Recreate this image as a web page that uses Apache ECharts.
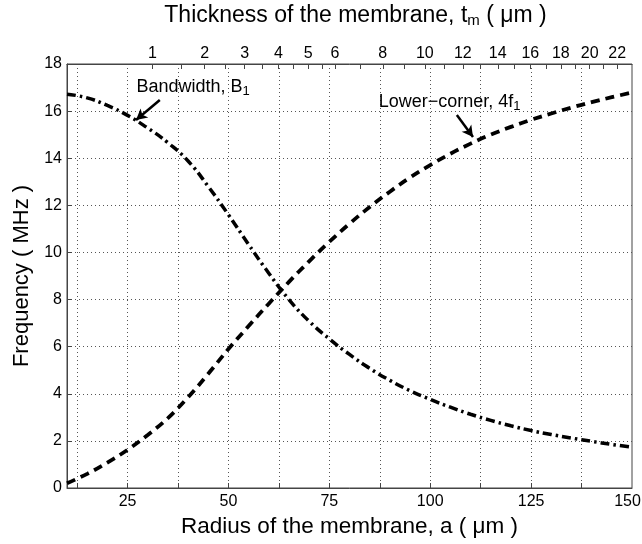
<!DOCTYPE html>
<html>
<head>
<meta charset="utf-8">
<script src="https://cdn.jsdelivr.net/npm/echarts@6/dist/echarts.min.js"></script>
<style>html,body{margin:0;padding:0;background:#fff}#c{width:642px;height:544px}</style>
</head>
<body>
<div id="c"></div>
<script>
// Radius of the membrane (µm)
const radius = [10,15,20,25,30,35,40,45,50,55,60,65,70,75,80,85,90,95,100,105,110,115,120,125,130,135,140,145,150];
// Lower-corner, 4f1 (MHz)
const lowerCorner = [0.2,0.6,1.08,1.62,2.25,2.97,3.85,4.85,5.9,6.875,7.825,8.75,9.625,10.45,11.22,11.93,12.58,13.18,13.71,14.19,14.62,15.0,15.33,15.63,15.9,16.15,16.38,16.59,16.79];
// Bandwidth, B1 (MHz)
const bandwidth = [16.72,16.56,16.24,15.82,15.28,14.66,13.88,12.8,11.6,10.34,9.12,8.0,7.08,6.33,5.67,5.08,4.57,4.13,3.76,3.43,3.13,2.87,2.64,2.44,2.27,2.12,1.98,1.85,1.73];
// bottom axis ticks / labels
const xTickValues = [12.5,25,37.5,50,62.5,75,87.5,100,112.5,125,137.5];
const xLabelValues = [25,50,75,100,125,150];
// top axis: thickness t (µm), radius a = K*sqrt(t)
const K = 31.2;
const thickTicks = [1,1.5,2,2.5,3,3.5,4,4.5,5,5.5,6,7,8,9,10,11,12,13,14,15,16,17,18,19,20,21,22];
const thickLabels = [1,2,3,4,5,6,8,10,12,14,16,18,20,22];
// y axis
const yMin = 0, yMax = 18, yStep = 2;

const FF = '"Liberation Sans", Arial, Helvetica, sans-serif';
const toA = t => K * Math.sqrt(t);

const chart = echarts.init(document.getElementById('c'), null, {renderer:'canvas'});
const axisColor = '#444';
const gridLine = {show:true, lineStyle:{color:'#555', width:1, type:[1,3]}};
const subRich = {
  a:{fontSize:18, color:'#000', fontFamily:FF, lineHeight:20, verticalAlign:'top'},
  s:{fontSize:13, color:'#000', fontFamily:FF, lineHeight:13, padding:[12,0,0,0], verticalAlign:'bottom'}
};

chart.setOption({
  animation:false,
  backgroundColor:'#fff',
  textStyle:{fontFamily:FF},
  grid:{left:67, right:10, top:64, bottom:56, show:true, borderColor:axisColor, borderWidth:1, containLabel:false, outerBoundsMode:'none'},
  xAxis:[{
    type:'value', position:'bottom', min:10, max:150,
    name:'Radius of the membrane, a ( μm )', nameLocation:'middle', nameGap:23,
    nameTextStyle:{fontSize:22.5, color:'#000', fontFamily:FF},
    axisLine:{show:true, lineStyle:{color:axisColor}},
    axisTick:{show:true, inside:true, length:5, customValues:xTickValues, lineStyle:{color:axisColor}},
    axisLabel:{customValues:xLabelValues, fontSize:16, margin:6, color:'#000', fontFamily:FF,
      formatter:v => v === 150 ? '{p|' + v + '}' : String(v),
      rich:{p:{fontSize:16, color:'#000', fontFamily:FF, padding:[0,9,0,0]}}},
    splitLine:gridLine
  },{
    type:'value', position:'top', min:10, max:150,
    name:'{a|Thickness of the membrane, t}{s|m}{a| ( μm )}', nameLocation:'middle', nameGap:36,
    nameTextStyle:{fontFamily:FF, padding:[0,0,0,12], rich:{
      a:{fontSize:23, color:'#000', fontFamily:FF, lineHeight:24, verticalAlign:'top'},
      s:{fontSize:15, color:'#000', fontFamily:FF, lineHeight:15, padding:[14,0,0,0], verticalAlign:'bottom'}
    }},
    axisLine:{show:true, lineStyle:{color:axisColor}},
    axisTick:{show:true, inside:true, length:5, customValues:thickTicks.map(toA), lineStyle:{color:axisColor}},
    axisLabel:{customValues:thickLabels.map(toA), fontSize:16, margin:2, color:'#000', fontFamily:FF,
      formatter:v => String(Math.round((v / K) * (v / K)))},
    splitLine:{show:false}
  }],
  yAxis:{
    type:'value', min:yMin, max:yMax, interval:yStep,
    name:'Frequency ( MHz )', nameLocation:'middle', nameGap:31,
    nameTextStyle:{fontSize:22, color:'#000', fontFamily:FF},
    axisLine:{show:true, lineStyle:{color:axisColor}},
    axisTick:{show:true, inside:true, length:5, lineStyle:{color:axisColor}},
    axisLabel:{fontSize:16, margin:5, color:'#000', fontFamily:FF},
    splitLine:gridLine
  },
  series:[{
    type:'line', name:'Lower-corner, 4f1', xAxisIndex:0,
    data:radius.map((a,i)=>[a, lowerCorner[i]]),
    showSymbol:false, smooth:0.4,
    lineStyle:{color:'#000', width:3.8, type:[9,6]},
    markLine:{silent:true, symbol:['none','arrow'], symbolSize:[9,11],
      lineStyle:{color:'#000', width:2.5, type:'solid'}, label:{show:false},
      data:[[{coord:[106.6,15.83]},{coord:[110.6,14.9]}]]},
    markPoint:{silent:true, symbol:'circle', symbolSize:1, itemStyle:{color:'rgba(0,0,0,0)'},
      label:{show:true, position:'right', distance:0, formatter:'{a|Lower−corner, 4f}{s|1}', rich:subRich},
      data:[{coord:[87.1,16.33]}]}
  },{
    type:'line', name:'Bandwidth, B1', xAxisIndex:0,
    data:radius.map((a,i)=>[a, bandwidth[i]]),
    showSymbol:false, smooth:0.5,
    lineStyle:{color:'#000', width:3.5, type:[9,4,2.5,4]},
    markLine:{silent:true, symbol:['none','arrow'], symbolSize:[9,11],
      lineStyle:{color:'#000', width:2.5, type:'solid'}, label:{show:false},
      data:[[{coord:[33.0,16.47]},{coord:[27.1,15.62]}]]},
    markPoint:{silent:true, symbol:'circle', symbolSize:1, itemStyle:{color:'rgba(0,0,0,0)'},
      label:{show:true, position:'right', distance:0, formatter:'{a|Bandwidth, B}{s|1}', rich:subRich},
      data:[{coord:[27.1,16.98]}]}
  }]
});
</script>
</body>
</html>
